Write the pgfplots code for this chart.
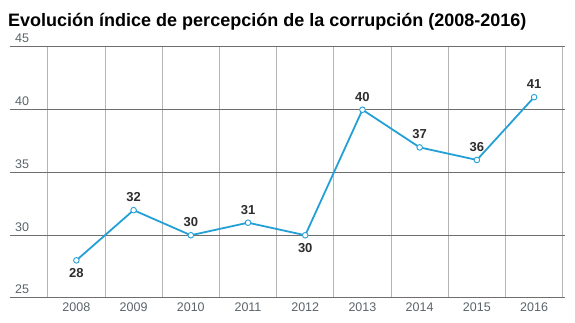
\documentclass[border=0pt]{standalone}
\usepackage{pgfplots}
\pgfplotsset{compat=1.18}
\usepackage{fontspec}
\setmainfont{Liberation Sans}
\definecolor{lineblue}{RGB}{36,160,214}
\definecolor{gridh}{RGB}{110,110,110}
\definecolor{gridv}{RGB}{180,180,180}
\definecolor{ticktxt}{RGB}{90,100,105}
\definecolor{lbltxt}{RGB}{45,45,45}
\pgfplotstableread{
x y pos
2008 28 -1
2009 32 1
2010 30 1
2011 31 1
2012 30 -1
2013 40 1
2014 37 1
2015 36 1
2016 41 1
}\datatable
\begin{document}
\begin{tikzpicture}[x=1pt,y=1pt]
\useasboundingbox (0,0) rectangle (575,323);
\node[anchor=base west, font=\bfseries\fontsize{18}{20}\selectfont, inner sep=0] at (8,296) {Evolución índice de percepción de la corrupción (2008-2016)};
\begin{axis}[at={(10pt,25pt)}, anchor=south west, scale only axis, width=555pt, height=251pt,
 xmin=2006.84, xmax=2016.54, ymin=25, ymax=45,
 axis line style={draw=none},
 xtick={2008,...,2016}, minor xtick={2007.5,2008.5,...,2016.5},
 ytick={25,30,35,40,45},
 major tick length=0, minor tick length=0,
 ymajorgrids, xminorgrids,
 major grid style={gridh, line width=1pt},
 minor grid style={gridv, line width=0.8pt},
 /pgf/number format/assume math mode=true,
 xticklabel style={font=\fontsize{12.5}{14}\selectfont, text=ticktxt, anchor=north, yshift=-1pt, /pgf/number format/1000 sep={}},
 yticklabel style={font=\fontsize{12.5}{14}\selectfont, text=ticktxt, anchor=base west, inner sep=0pt, xshift=5pt, yshift=4pt},
 clip=false,
]
\addplot[color=lineblue, line width=1.8pt, mark=*, mark size=2.8pt,
  mark options={fill=white, draw=lineblue, line width=0.9pt},
  visualization depends on={\thisrow{pos}\as\pos},
  nodes near coords={\pgfmathprintnumber{\pgfplotspointmeta}},
  point meta=explicit,
  nodes near coords style={anchor=center, yshift={\pos*13pt}, font=\bfseries\fontsize{13}{15}\selectfont, text=lbltxt}
] table[x=x, y=y, meta=y] {\datatable};
\end{axis}
\end{tikzpicture}
\end{document}
